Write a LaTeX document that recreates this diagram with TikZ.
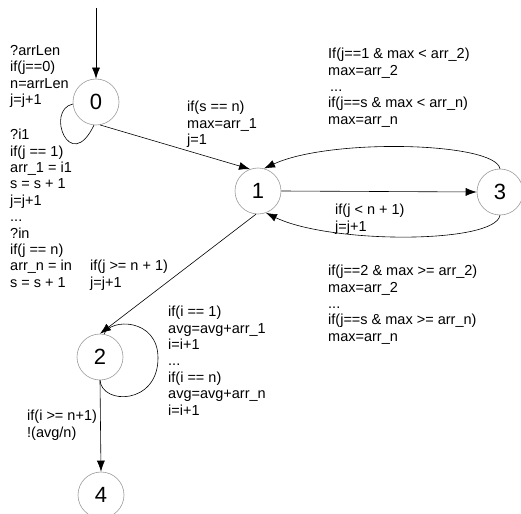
\documentclass[tikz,border=0pt]{standalone}
\usepackage{fontspec}
\setmainfont{Liberation Sans}
\usetikzlibrary{arrows.meta}
\begin{document}
\begin{tikzpicture}[x=1pt,y=-1pt,
  state/.style={circle,draw=black!40,line width=0.6pt,minimum size=46pt,inner sep=0pt,font=\fontsize{22}{24}\selectfont},
  lbl/.style={anchor=north west,inner sep=0pt,align=left,font=\fontsize{14.5}{16.4}\selectfont},
  arr/.style={-{Latex[length=11pt,width=8pt]},line width=0.6pt},
  ln/.style={line width=0.6pt}]
\useasboundingbox (0,0) rectangle (521,513);
\node[state] (n0) at (96,102) {0};
\node[state] (n1) at (258,191) {1};
\node[state] (n3) at (500,192) {3};
\node[state] (n2) at (100,357) {2};
\node[state] (n4) at (101,495) {4};
\coordinate (start) at (96,8);
% edges
\draw[arr] (start) -- (n0.north);
\draw[ln] (n0.185) .. controls (45,110) and (70,175) .. (n0.-95);
\draw[arr] (n0.-80) -- (n1.110);
\draw[arr] (n1.east) -- (n3.west);
\draw[arr] (n3.north) .. controls (495,142) and (330,138) .. (n1.75);
\draw[arr] (n3.south) .. controls (495,244) and (330,244) .. (n1.-70);
\draw[arr] (n1.-95) -- (n2.north);
\draw[ln] (n2.80) .. controls (110,318) and (158,318) .. (158,358) .. controls (158,405) and (102,405) .. (n2.south);
\draw[arr] (n2.south) -- (n4.north);
% labels
\node[lbl] (tA) at (10,45) {?arrLen\\if(j==0)\\n=arrLen\\j=j+1};
\node[lbl] (tB) at (10,129) {?i1\\if(j == 1)\\arr\_1 = i1\\s = s + 1\\j=j+1\\...\\?in\\if(j == n)\\arr\_n = in\\s = s + 1};
\node[lbl] (tC) at (90,260) {if(j >= n + 1)\\j=j+1};
\node[lbl] (tD) at (187,101) {if(s == n)\\max=arr\_1\\j=1};
\node[lbl] (tE) at (328,48) {If(j==1 \& max < arr\_2)\\max=arr\_2\\\hspace*{2pt}...\\if(j==s \& max < arr\_n)\\max=arr\_n};
\node[lbl] (tF) at (335,204) {if(j < n + 1)\\j=j+1};
\node[lbl] (tG) at (328,265) {if(j==2 \& max >= arr\_2)\\max=arr\_2\\...\\if(j==s \& max >= arr\_n)\\max=arr\_n};
\node[lbl] (tH) at (168,306) {if(i == 1)\\avg=avg+arr\_1\\i=i+1\\...\\if(i == n)\\avg=avg+arr\_n\\i=i+1};
\node[lbl] (tI) at (27,410) {if(i >= n+1)\\!(avg/n)};
\end{tikzpicture}
\end{document}
